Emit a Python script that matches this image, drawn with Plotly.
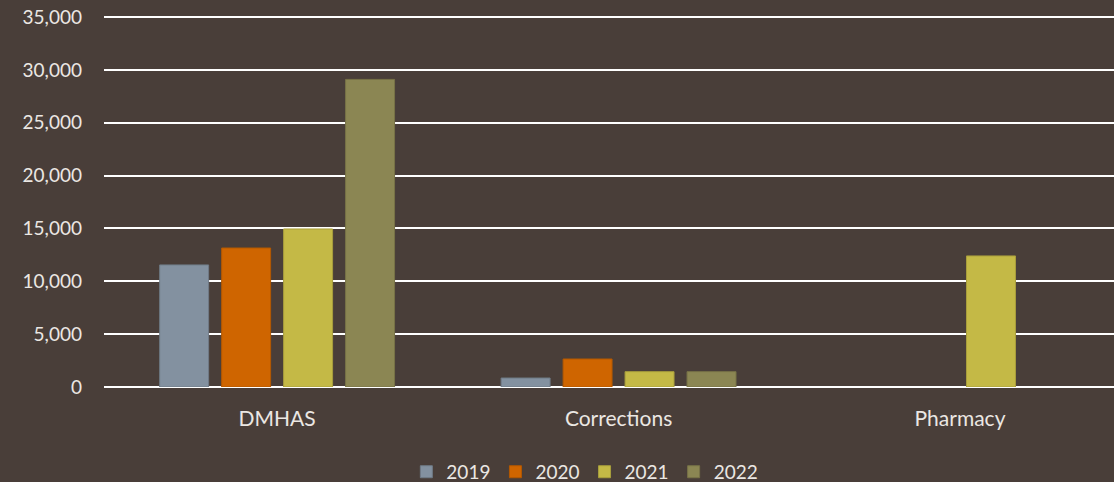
import plotly.graph_objects as go

categories = ["DMHAS", "Corrections", "Pharmacy"]
years = ["2019", "2020", "2021", "2022"]
values_2019 = [11550, 850, None]
values_2020 = [13150, 2650, None]
values_2021 = [14950, 1450, 12400]
values_2022 = [29100, 1450, None]
series = [values_2019, values_2020, values_2021, values_2022]

colors = ["#8391a0", "#cf6500", "#c4b946", "#8b8653"]
edges = ["#6f7a86", "#b35800", "#a89e3c", "#777247"]
bg = "#493e39"
txt = "#ebe7e3"
font_family = "Lato, 'Noto Sans', sans-serif"

fig = go.Figure()
for yr, vals, c, e in zip(years, series, colors, edges):
    fig.add_trace(go.Bar(
        x=categories, y=vals, name=yr,
        marker=dict(color=c, line=dict(color=e, width=1)),
    ))

fig.update_layout(
    width=1114, height=482,
    paper_bgcolor=bg, plot_bgcolor=bg,
    margin=dict(l=104, r=0, t=16, b=95, autoexpand=False),
    barmode="group", bargap=0.274, bargroupgap=0.21,
    font=dict(family=font_family, color=txt, size=18),
    showlegend=True,
    legend=dict(
        orientation="h", xref="container", yref="container",
        x=0.525, xanchor="center", y=0.021, yanchor="middle",
        font=dict(size=19, color=txt), bgcolor="rgba(0,0,0,0)",
        itemwidth=30, traceorder="normal",
    ),
    xaxis=dict(
        range=[-0.507, 2.451], showgrid=False, zeroline=False,
        showline=False, ticks="", ticklabelstandoff=17,
        tickfont=dict(size=21, color=txt),
    ),
    yaxis=dict(
        range=[0, 35100], dtick=5000, tickformat=",d",
        showgrid=True, gridcolor="#ffffff", gridwidth=2,
        zeroline=True, zerolinecolor="#ffffff", zerolinewidth=2,
        ticks="", ticklabelstandoff=21, tickfont=dict(size=19, color=txt),
    ),
)

fig.write_html(
    "out.html",
    config={"displayModeBar": False},
    post_script="document.body.style.margin='0';document.body.style.overflow='hidden';",
)
